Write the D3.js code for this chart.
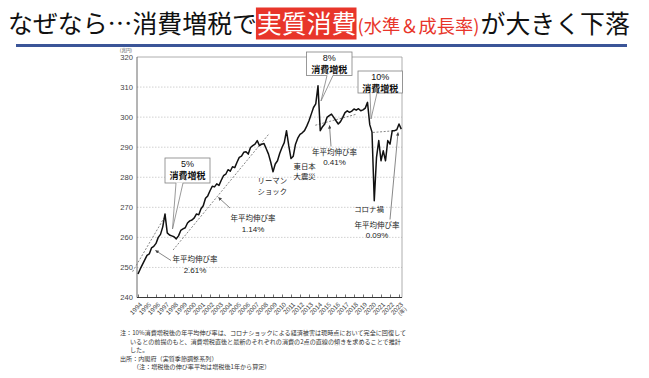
<!DOCTYPE html>
<html><head><meta charset="utf-8">
<script src="https://cdn.jsdelivr.net/npm/d3@7"></script>
<style>body{margin:0;background:#fff} svg{display:block}</style>
</head><body><svg id="c" width="649" height="378"></svg>
<script>
// ---- data ----
const startYear = 1994; // first quarter = 1994 Q1
const consumption = [
247.8, 249.5, 251, 252.5,
254, 254.5, 256.5, 257,
258, 260, 261, 263.5,
267.8, 261.5, 260.8, 260.5,
260.2, 259.5, 260.5, 262.3,
262.8, 263.2, 264.8, 265.5,
265.8, 266.5, 267.8, 267.5,
269.5, 270.5, 273, 273.8,
275.5, 277, 276.8, 277.8,
277.3, 279, 280.5, 281,
282.5, 282, 283.5, 283.2,
285, 286.6, 287, 288.3,
288.5, 287.7, 289.9, 290.5,
291, 292.2, 290.5, 291,
291.2, 289.5, 287.7, 285,
281.8, 284.4, 285.5, 288,
289.9, 291.5, 295.5, 290.5,
286.2, 287, 291, 293,
294.3, 294.8, 295.5, 297,
298.8, 301, 303.2, 304.4,
310.4, 295.5, 296.8, 297.7,
299.9, 300.5, 301, 299.9,
298.8, 297.7, 298.5, 299.9,
301.5, 302.1, 301.6, 302,
302.7, 302.3, 302.8, 302.1,
302.4, 303, 304.9, 297.5,
295, 272.2, 286.6, 292.2,
285.5, 288.8, 285.5, 292.2,
291, 295.5, 295.5, 295.8,
297.7, 296
];
const yTicks = [240, 250, 260, 270, 280, 290, 300, 310, 320];
const yearLabels = d3.range(1994, 2024);
const trendLines = [
  {rate: "2.61%", t0: 1993.4, v0: 248.6, t1: 1997.1, v1: 267.5},
  {rate: "1.14%", t0: 1997.9, v0: 255.8, t1: 2008.6, v1: 294.6},
  {rate: "0.41%", t0: 2013.7, v0: 297.3, t1: 2018.3, v1: 301.0},
  {rate: "0.09%", t0: 2020.1, v0: 294.9, t1: 2022.6, v1: 295.5}
];
const taxHikes = ["5%", "8%", "10%"];
const rateLabel = "年平均伸び率";

// ---- setup ----
const svg = d3.select("#c");
const JP = "'Noto Sans CJK JP','Noto Sans',sans-serif";
const AR = "'Liberation Sans',Arial,sans-serif";
const L = 137, R = 402, T = 57, B = 297.5;
const x = d3.scaleLinear().domain([1994, 2023.333]).range([138, R]);
const y = d3.scaleLinear().domain([240, 320]).range([B, T]);

// ---- title ----
const tg = svg.append("g");
let cx = 8;
const base = 33;
function piece(txt, size, color){
  const t = tg.append("text").attr("x", cx).attr("y", base).attr("font-family", JP)
    .attr("font-size", size).attr("fill", color).text(txt);
  const w = t.node().getComputedTextLength();
  const x0 = cx; cx += w; return {t, x0, w};
}
piece("なぜなら…消費増税で", 24.9, "#111");
const redStart = cx;
const redRect = tg.insert("rect", ":first-child");
const rp = piece("実質消費", 24.9, "#fff");
redRect.attr("x", redStart - 1).attr("y", 7.5).attr("width", rp.w + 1).attr("height", 32).attr("fill", "#e8352a");
cx += 1;
piece("(水準＆成長率)", 18.3, "#e8352a");
cx += 1;
piece("が大きく下落", 24.9, "#111");
svg.append("rect").attr("x", 16).attr("y", 44).attr("width", 611).attr("height", 3).attr("fill", "#3b5598");

// ---- grid ----
svg.append("g").selectAll("line").data(yTicks.filter(d => d > 240 && d < 320)).join("line")
  .attr("x1", L).attr("x2", R).attr("y1", d => y(d)).attr("y2", d => y(d))
  .attr("stroke", "#bdbdbd").attr("stroke-width", 0.7).attr("stroke-dasharray", "1.5,1.5");

// frame
svg.append("line").attr("x1", L).attr("x2", R).attr("y1", T).attr("y2", T).attr("stroke", "#9a9a9a").attr("stroke-width", 0.8);
svg.append("line").attr("x1", R).attr("x2", R).attr("y1", T).attr("y2", B).attr("stroke", "#9a9a9a").attr("stroke-width", 0.8);
svg.append("line").attr("x1", L).attr("x2", L).attr("y1", T).attr("y2", B).attr("stroke", "#444").attr("stroke-width", 0.8);
svg.append("line").attr("x1", L).attr("x2", R).attr("y1", B).attr("y2", B).attr("stroke", "#222").attr("stroke-width", 0.9);

// y axis labels
const ya = svg.append("g").attr("transform", `translate(${L},0)`)
  .call(d3.axisLeft(y).tickValues(yTicks).tickSize(0).tickPadding(4));
ya.select(".domain").remove();
ya.selectAll("text").attr("font-family", AR).attr("font-size", 7.6).attr("fill", "#444");
svg.append("text").attr("x", 126).attr("y", 51.5).attr("text-anchor", "middle")
  .attr("font-family", JP).attr("font-size", 4.6).attr("fill", "#555").text("(兆円)");

// x axis
const xa = svg.append("g").attr("transform", `translate(0,${B})`)
  .call(d3.axisBottom(x).tickValues(yearLabels).tickSize(-3).tickFormat(d => String(d)));
xa.select(".domain").remove();
xa.selectAll("line").attr("stroke", "#333").attr("stroke-width", 0.7);
xa.selectAll("text").attr("x", 0).attr("y", 0).attr("dy", "0.35em")
  .attr("transform", "translate(2.5,6) rotate(-45)").attr("text-anchor", "end")
  .attr("font-family", AR).attr("font-size", 6.4).attr("fill", "#444");
svg.append("text").attr("transform", `translate(${x(2023) + 8},${B + 12}) rotate(-45)`)
  .attr("text-anchor", "end").attr("font-family", JP).attr("font-size", 5.5).attr("fill", "#444").text("(年)");

// ---- trend lines ----
svg.append("g").selectAll("line").data(trendLines).join("line")
  .attr("x1", d => x(d.t0)).attr("y1", d => y(d.v0)).attr("x2", d => x(d.t1)).attr("y2", d => y(d.v1))
  .attr("stroke", "#777").attr("stroke-width", 0.9).attr("stroke-dasharray", "2,1.6");

// ---- series ----
const line = d3.line().x((d, i) => x(startYear + i / 4)).y(d => y(d));
svg.append("path").datum(consumption).attr("d", line).attr("fill", "none")
  .attr("stroke", "#111").attr("stroke-width", 1.5).attr("stroke-linejoin", "round");

// ---- annotations ----
const defs = svg.append("defs");
defs.append("marker").attr("id", "ah").attr("viewBox", "0 0 10 10").attr("refX", 9).attr("refY", 5)
  .attr("markerWidth", 5).attr("markerHeight", 5).attr("orient", "auto")
  .append("path").attr("d", "M0,0L10,5L0,10z").attr("fill", "#444");

function arrow(x1, y1, x2, y2){
  svg.append("line").attr("x1", x1).attr("y1", y1).attr("x2", x2).attr("y2", y2)
    .attr("stroke", "#555").attr("stroke-width", 0.7).attr("marker-end", "url(#ah)");
}
function txt(s, tx, ty, size, anchor, color, fam, weight){
  svg.append("text").attr("x", tx).attr("y", ty).attr("dy", "0.35em").attr("text-anchor", anchor || "middle")
    .attr("font-family", fam || JP).attr("font-size", size).attr("font-weight", weight || "normal")
    .attr("fill", color || "#222").text(s);
}
function callout(pct, bx0, by0, bx1, by1, p0, p1, tipx, tipy){
  const g = svg.append("g");
  g.append("rect").attr("x", bx0).attr("y", by0).attr("width", bx1 - bx0).attr("height", by1 - by0)
    .attr("fill", "#fff").attr("stroke", "#808080").attr("stroke-width", 0.8);
  g.append("path").attr("d", `M${p0},${by1 - 0.6}L${tipx},${tipy}L${p1},${by1 - 0.6}Z`).attr("fill", "#fff").attr("stroke", "none");
  g.append("path").attr("d", `M${p0},${by1}L${tipx},${tipy}L${p1},${by1}`).attr("fill", "none")
    .attr("stroke", "#808080").attr("stroke-width", 0.8);
  const cxm = (bx0 + bx1) / 2;
  txt(pct, cxm, by0 + 5.6, 9, "middle", "#111", AR);
  txt("消費増税", cxm, by0 + 17.4, 9, "middle", "#111", JP, "bold");
}
callout(taxHikes[0], 165, 158, 210, 183, 176, 183, 172.5, 229);
callout(taxHikes[1], 306.5, 52, 352, 75.5, 327, 333, 321, 101);
callout(taxHikes[2], 358, 71, 402.5, 93, 370, 377, 371, 119);

// growth-rate labels
function rate(i, cxm, cy){
  txt(rateLabel, cxm, cy, 7.5);
  txt(trendLines[i].rate, cxm, cy + 10.6, 8, "middle", "#222", AR);
}
rate(0, 195, 259.5);
arrow(171, 260.5, 155.5, 250.5);
rate(1, 253, 218.5);
arrow(230, 208, 218.5, 197.5);
rate(2, 334.5, 152);
arrow(331, 146.5, 329.5, 125.5);
rate(3, 377, 225);
arrow(390, 219.5, 398, 132.5);

// event labels
txt("リーマン", 257.5, 180.5, 7.4, "start"); txt("ショック", 257.5, 191.2, 7.4, "start");
txt("東日本", 293.5, 166, 7.4, "start"); txt("大震災", 293.5, 176.7, 7.4, "start");
txt("コロナ禍", 369, 209, 7.4);

// ---- notes ----
const notes = [
  [120, 333, "注：10%消費増税後の年平均伸び率は、コロナショックによる経済被害は現時点において完全に回復して"],
  [130, 341.5, "いるとの前提のもと、消費増税直後と最新のそれぞれの消費の2点の直線の傾きを求めることで推計"],
  [130, 350, "した。"],
  [120, 358.5, "出所：内閣府（実質季節調整系列）"],
  [133, 367, "（注：増税後の伸び率平均は増税後1年から算定）"]
];
notes.forEach(n => txt(n[2], n[0], n[1], 6.1, "start", "#333"));
</script></body></html>
